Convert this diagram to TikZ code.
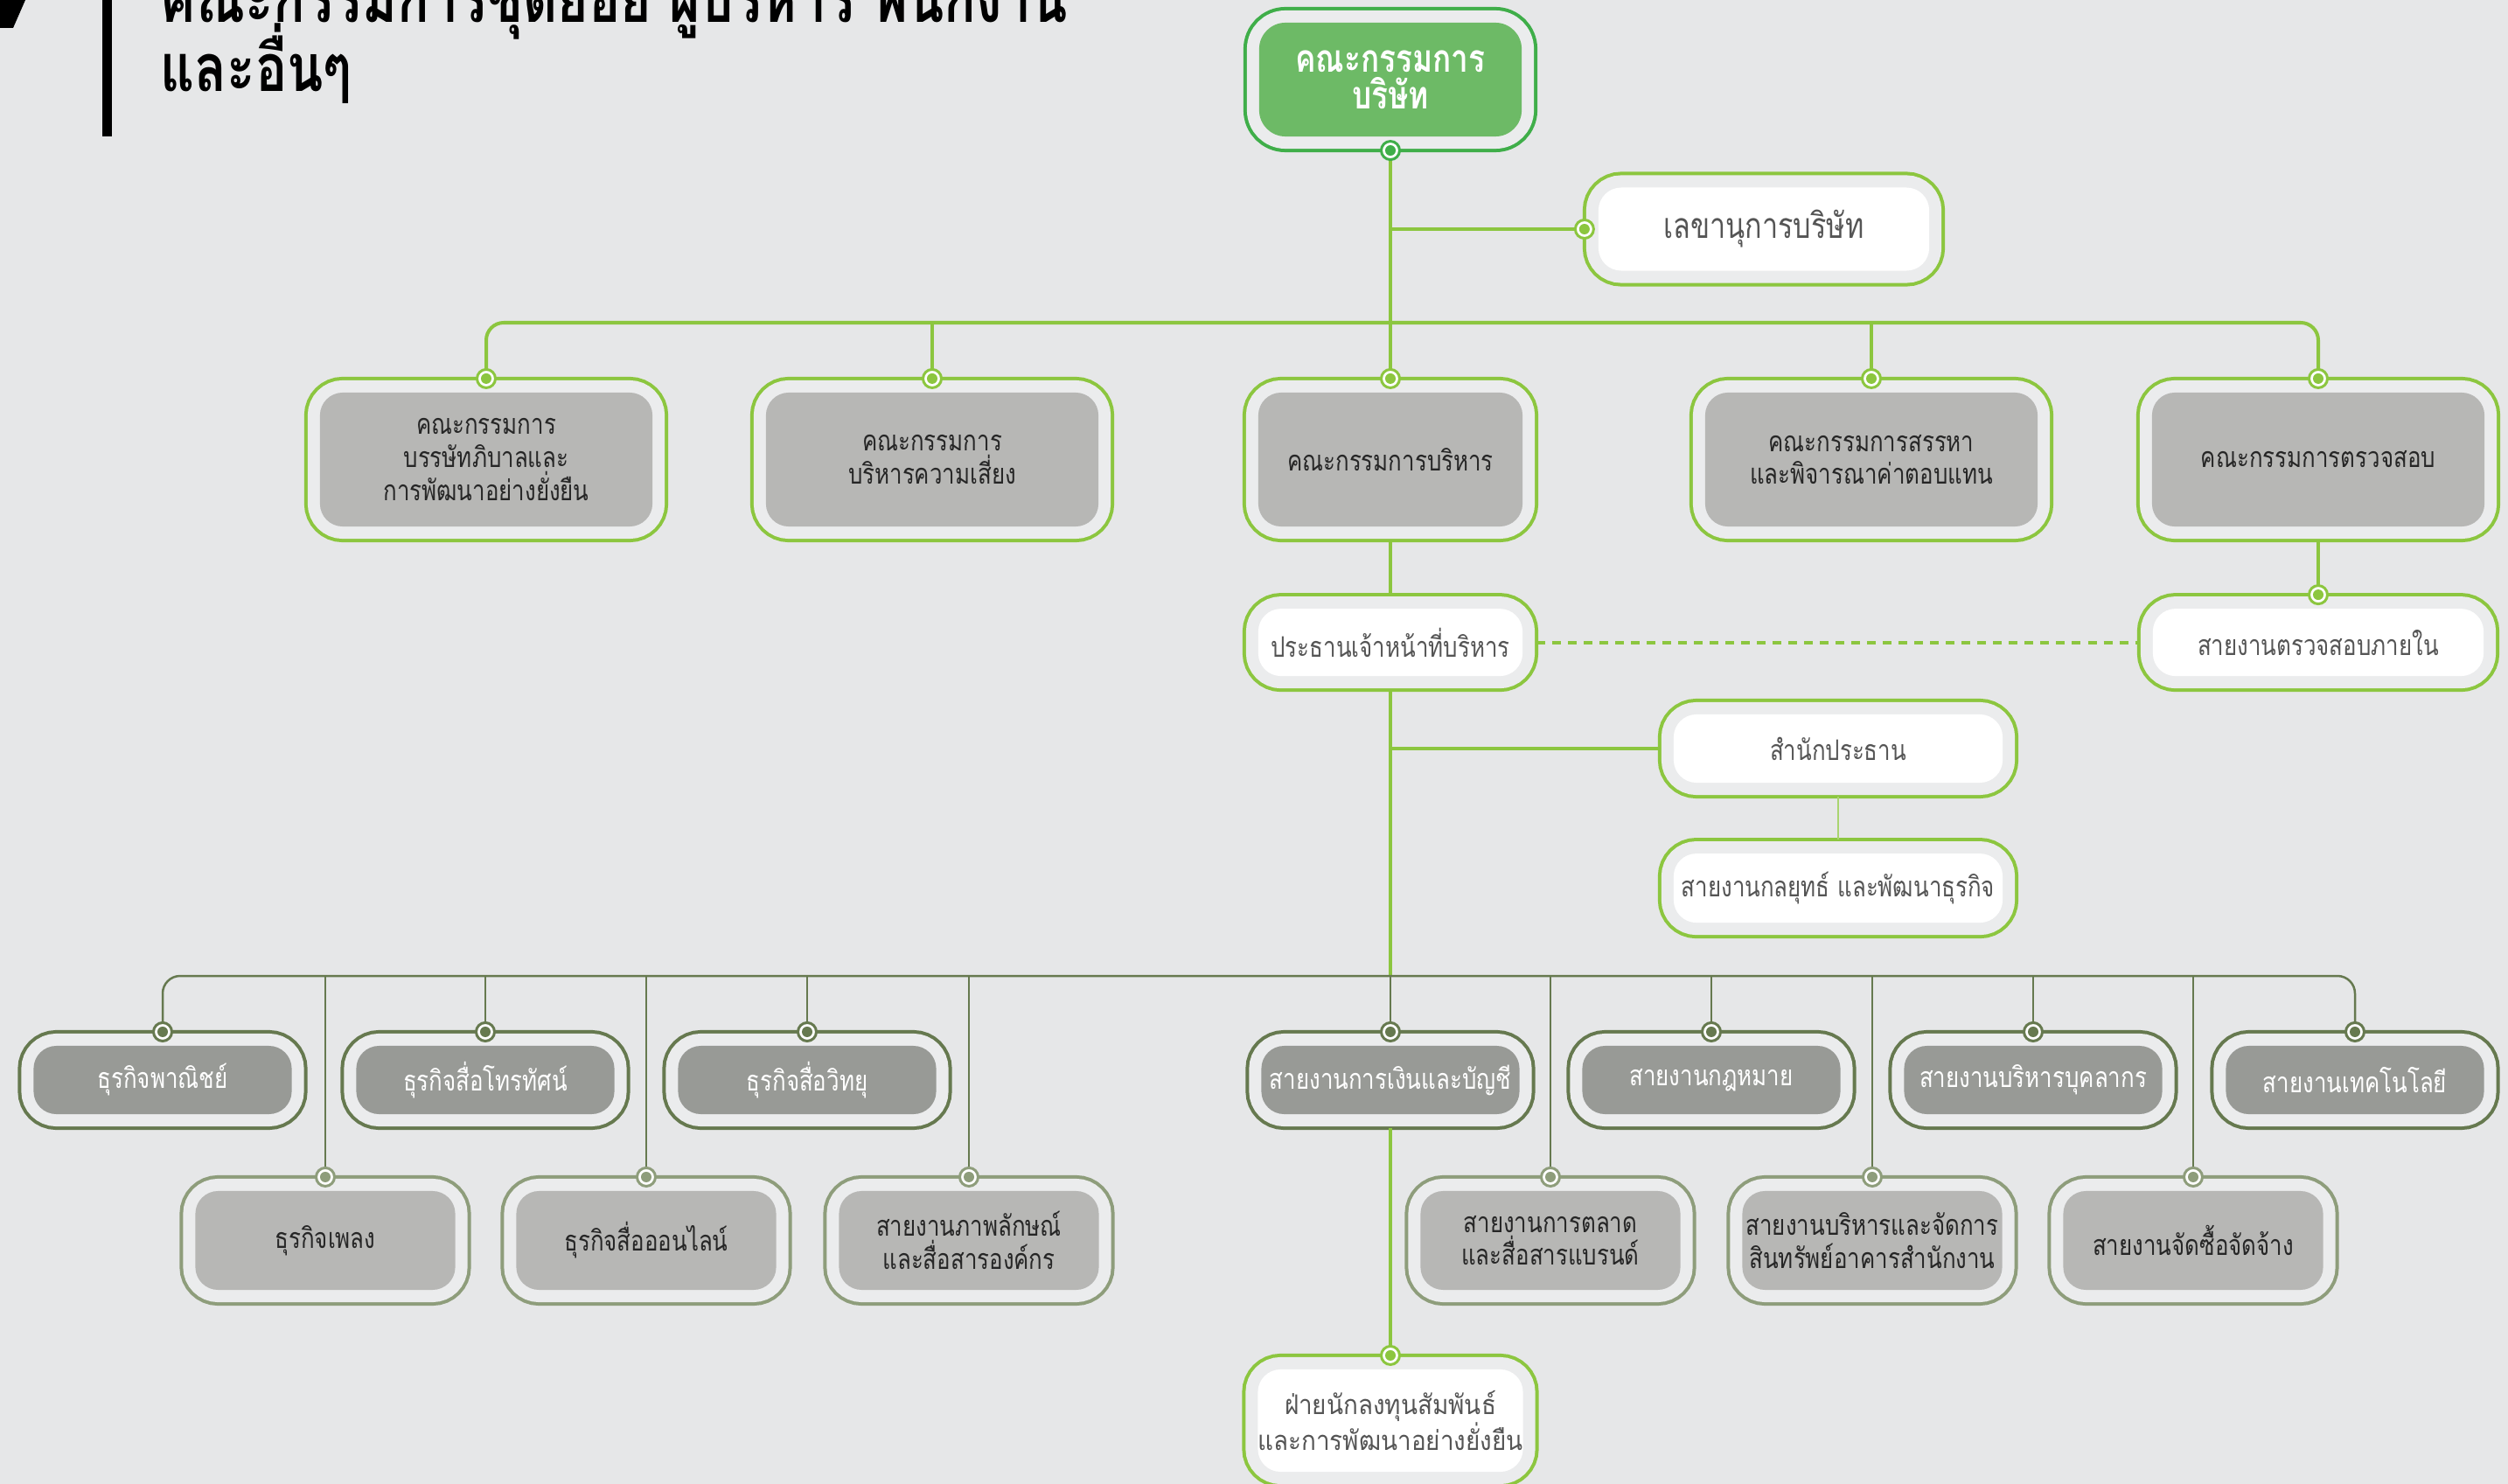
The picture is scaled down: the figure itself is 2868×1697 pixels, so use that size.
\documentclass[tikz,border=0pt]{standalone}
\usepackage{fontspec}
\setmainfont[Script=Thai, FakeStretch=0.8]{Loma}
\newfontfamily\irfont[Script=Thai, FakeStretch=0.9]{Loma}
\usetikzlibrary{positioning}

\definecolor{bg}{HTML}{E6E7E8}
\definecolor{ringgray}{HTML}{EBECED}
\definecolor{lgreen}{HTML}{8CC63F}
\definecolor{dgreen}{HTML}{3FAE49}
\definecolor{bgreen}{HTML}{6DBA66}
\definecolor{cgray}{HTML}{B7B7B5}
\definecolor{dgray}{HTML}{989A96}
\definecolor{olive}{HTML}{66794F}
\definecolor{lolive}{HTML}{8E9D7B}
\definecolor{txtgray}{HTML}{555555}
\definecolor{thinline}{HTML}{A9D46F}

\newcommand\titlefont{\bfseries\fontsize{21.5}{22.5}\selectfont
  \lineskiplimit=-100pt\relax\lineskip=0pt\relax}

\begin{document}
\begin{tikzpicture}[
    x=0.01cm, y=-0.01cm,
    unit/.style={rounded corners=0.26cm, inner sep=0pt, outer sep=0.16cm, align=center,
                 font=\fontsize{9.2}{10.7}\selectfont},
    ringframe/.style={preaction={draw=#1, line width=0.36cm},
                      preaction={draw=ringgray, line width=0.28cm}},
    boardbox/.style={unit, ringframe=dgreen, fill=bgreen, text=white, rounded corners=0.3cm,
                     minimum width=3cm, minimum height=1.3cm,
                     font=\bfseries\fontsize{12.5}{12}\selectfont},
    cmte/.style={unit, ringframe=lgreen, fill=cgray, text=black!85,
                 minimum width=3.8cm, minimum height=1.53cm},
    officebox/.style={unit, ringframe=lgreen, fill=white, text=txtgray,
                      minimum width=3.78cm, minimum height=0.77cm},
    bizbox/.style={unit, ringframe=olive, fill=dgray, text=white,
                   minimum width=2.95cm, minimum height=0.78cm},
    deptbox/.style={unit, ringframe=lolive, fill=cgray, text=black!85,
                    minimum width=2.97cm, minimum height=1.13cm},
    link/.style={draw=lgreen, line width=0.04cm},
    thinlink/.style={draw=thinline, line width=0.02cm},
    dashlink/.style={draw=lgreen, line width=0.04cm, dash pattern=on 0.1cm off 0.08cm},
    buslink/.style={draw=olive, line width=0.025cm},
    knob/.style={circle, draw=#1, fill=white, line width=0.03cm, minimum size=0.21cm,
                 inner sep=0pt,
                 path picture={\fill[#1] (path picture bounding box.center) circle (0.06cm);}},
]
\useasboundingbox (0,0) rectangle (2868,1697);
\fill[bg] (0,0) rectangle (2868,1697);

% --- Title ---
\fill (0,0) -- (29,0) -- (15,32) -- (0,32) -- cycle;
\fill (117,0) rectangle (128,156);
\node[anchor=base west, align=left, inner sep=0pt, font=\titlefont] (title) at (183,105)
  {คณะกรรมการชุดย่อย ผู้บริหาร พนักงาน\\และอื่นๆ};

% --- Board and secretary ---
\node[boardbox] (board) at (1590,91) {คณะกรรมการ\\บริษัท};
\node[officebox, minimum height=0.95cm, font=\fontsize{11.5}{13}\selectfont] (sec) at (2017,262)
  {เลขานุการบริษัท};

% --- Committees ---
\node[cmte] (gov) at (556,525.5) {คณะกรรมการ\\บรรษัทภิบาลและ\\การพัฒนาอย่างยั่งยืน};
\node[cmte] (risk) at (1066,525.5) {คณะกรรมการ\\บริหารความเสี่ยง};
\node[cmte, minimum width=3.02cm] (exec) at (1590,525.5) {คณะกรรมการบริหาร};
\node[cmte] (nom) at (2140,525.5) {คณะกรรมการสรรหา\\และพิจารณาค่าตอบแทน};
\node[cmte] (audit) at (2651,525.5) {คณะกรรมการตรวจสอบ};

% --- CEO level ---
\node[officebox, minimum width=3.02cm, below=0.62cm of exec] (ceo) {ประธานเจ้าหน้าที่บริหาร};
\node[officebox, below=0.62cm of audit] (intaudit) {สายงานตรวจสอบภายใน};
\node[officebox, minimum width=3.76cm, minimum height=0.78cm] (office) at (2102,856)
  {สำนักประธาน};
\node[officebox, minimum width=3.76cm, minimum height=0.79cm, below=0.49cm of office] (strategy)
  {สายงานกลยุทธ์ และพัฒนาธุรกิจ};

% --- Business units, upper row ---
\node[bizbox] (comm) at (186,1235) {ธุรกิจพาณิชย์};
\node[bizbox] (tv) at (555,1235) {ธุรกิจสื่อโทรทัศน์};
\node[bizbox] (radio) at (923,1235) {ธุรกิจสื่อวิทยุ};
\node[bizbox] (fin) at (1590,1235) {สายงานการเงินและบัญชี};
\node[bizbox] (legal) at (1957,1235) {สายงานกฎหมาย};
\node[bizbox] (hr) at (2325,1235) {สายงานบริหารบุคลากร};
\node[bizbox] (tech) at (2693,1235) {สายงานเทคโนโลยี};

% --- Business units, lower row ---
\node[deptbox] (music) at (372,1418.5) {ธุรกิจเพลง};
\node[deptbox] (online) at (739,1418.5) {ธุรกิจสื่อออนไลน์};
\node[deptbox] (corp) at (1108,1418.5) {สายงานภาพลักษณ์\\และสื่อสารองค์กร};
\node[deptbox] (mkt) at (1773,1418.5) {สายงานการตลาด\\และสื่อสารแบรนด์};
\node[deptbox] (asset) at (2141,1418.5) {สายงานบริหารและจัดการ\\สินทรัพย์อาคารสำนักงาน};
\node[deptbox] (proc) at (2508,1418.5) {สายงานจัดซื้อจัดจ้าง};

% --- Investor relations ---
\node[officebox, minimum width=3cm, minimum height=1.17cm,
      font=\irfont\fontsize{8.8}{11.4}\selectfont] (ir) at (1590,1624.5)
  {ฝ่ายนักลงทุนสัมพันธ์\\และการพัฒนาอย่างยั่งยืน};

% --- Connectors, upper part ---
\coordinate (topbus) at (0,369);
\coordinate (lowbus) at (0,1116);
\draw[link] (board) -- (exec);
\draw[link] (sec.west) -- (sec.west -| board.south);
\draw[link, rounded corners=0.2cm] (gov.north) |- (topbus -| risk.north) -| (audit.north);
\draw[link] (risk.north) -- (risk.north |- topbus);
\draw[link] (nom.north) -- (nom.north |- topbus);
\draw[link] (exec) -- (ceo);
\draw[link] (audit) -- (intaudit);
\draw[dashlink] (ceo) -- (intaudit);
\draw[link] (office.west) -- (office.west -| ceo.south);
\draw[thinlink] (office) -- (strategy);
\draw[link] (ceo.south) -- (ceo.south |- lowbus);
\draw[link] (fin) -- (ir);

% --- Connectors, business units ---
\draw[buslink, rounded corners=0.2cm] (comm.north) |- (lowbus -| tv.north) -| (tech.north);
\foreach \n in {tv,radio,fin,legal,hr,music,online,corp,mkt,asset,proc}
  \draw[buslink] (\n.north) -- (\n.north |- lowbus);

% --- Knobs ---
\node[knob=dgreen] (k-board) at (board.south) {};
\node[knob=lgreen] (k-sec) at (sec.west) {};
\foreach \n in {gov,risk,exec,nom,audit,intaudit,ir}
  \node[knob=lgreen] (k-\n) at (\n.north) {};
\foreach \n in {comm,tv,radio,fin,legal,hr,tech}
  \node[knob=olive] (k-\n) at (\n.north) {};
\foreach \n in {music,online,corp,mkt,asset,proc}
  \node[knob=lolive] (k-\n) at (\n.north) {};
\end{tikzpicture}
\end{document}
